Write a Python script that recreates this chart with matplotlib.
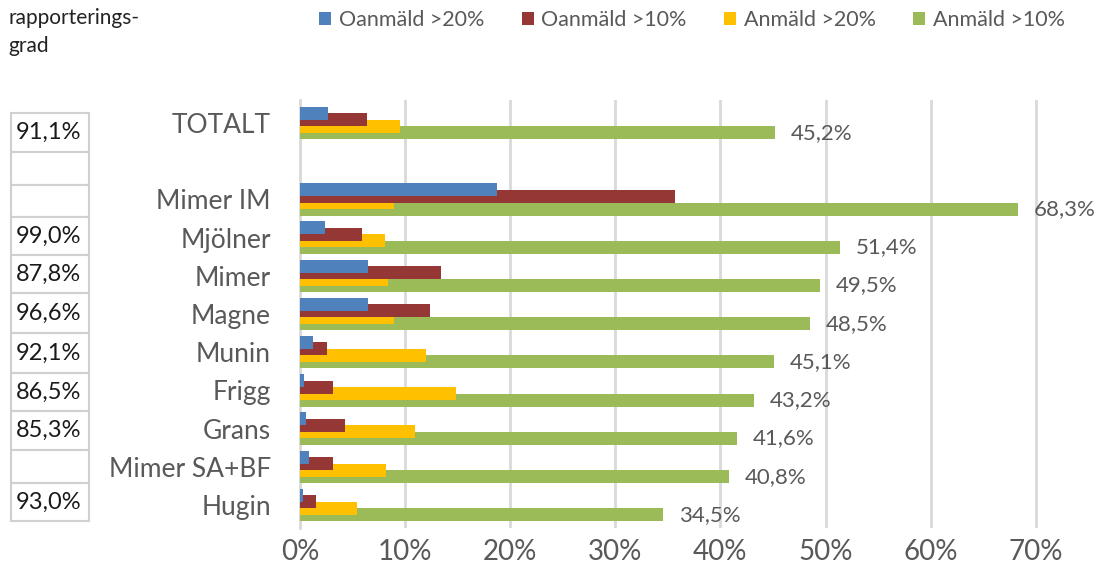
import numpy as np
import matplotlib
matplotlib.use("Agg")
import matplotlib.pyplot as plt
from matplotlib.patches import Rectangle
from matplotlib.ticker import FuncFormatter

plt.rcParams['font.family'] = ['Lato', 'DejaVu Sans']

# ---------------- data ----------------
categories = ["TOTALT", "Mimer IM", "Mjölner", "Mimer", "Magne", "Munin",
              "Frigg", "Grans", "Mimer SA+BF", "Hugin"]
series_names = ["Oanmäld >20%", "Oanmäld >10%", "Anmäld >20%", "Anmäld >10%"]
oanmald_20 = [0.027, 0.187, 0.024, 0.065, 0.065, 0.012, 0.0035, 0.006, 0.009, 0.003]
oanmald_10 = [0.064, 0.357, 0.059, 0.134, 0.124, 0.026, 0.031, 0.043, 0.031, 0.015]
anmald_20 = [0.095, 0.089, 0.081, 0.084, 0.089, 0.120, 0.148, 0.109, 0.082, 0.054]
anmald_10 = [0.452, 0.683, 0.514, 0.495, 0.485, 0.451, 0.432, 0.416, 0.408, 0.345]
green_labels = ["45,2%", "68,3%", "51,4%", "49,5%", "48,5%", "45,1%",
                "43,2%", "41,6%", "40,8%", "34,5%"]
rapp_title = "rapporterings-\ngrad"
rapp_grad = ["91,1%", "", "", "99,0%", "87,8%", "96,6%", "92,1%",
             "86,5%", "85,3%", "", "93,0%"]
x_ticks = [0.0, 0.1, 0.2, 0.3, 0.4, 0.5, 0.6, 0.7]

colors = ["#4F81BD", "#953735", "#FFC000", "#9BBB59"]
text_gray = "#595959"

W, H = 1096, 575
fig = plt.figure(figsize=(W / 100, H / 100), dpi=100)

def fx(px):
    return px / W

def fy(py):
    return 1 - py / H

ax_left, ax_right, ax_top, ax_bottom = 300, 1068, 100, 528
ax = fig.add_axes([fx(ax_left), fy(ax_bottom), fx(ax_right) - fx(ax_left),
                   fy(ax_top) - fy(ax_bottom)])

pos = np.array([0] + list(range(2, 11)), dtype=float)
offsets = [-0.255, -0.085, 0.085, 0.255]
bh = 0.34
all_series = [oanmald_20, oanmald_10, anmald_20, anmald_10]
handles = []
for i, (vals, name, col) in enumerate(zip(all_series, series_names, colors)):
    b = ax.barh(pos + offsets[i], vals, height=bh, color=col, label=name,
                zorder=10 - i, linewidth=0)
    handles.append(b)

for p, v, lab in zip(pos, anmald_10, green_labels):
    ax.annotate(lab, xy=(v, p + offsets[3]), xytext=(16, 0),
                textcoords="offset pixels",
                ha="left", va="center", fontsize=16, color=text_gray, zorder=20)

xmax = (ax_right - ax_left) / 1051
ax.set_xlim(0, xmax)
ax.set_ylim(10.6, -0.6)
ax.set_xticks(x_ticks)
ax.xaxis.set_major_formatter(FuncFormatter(lambda v, _: f"{v*100:.0f}%"))
ax.set_yticks(pos)
ax.set_yticklabels(categories)
ax.tick_params(axis="y", length=0, pad=21, labelsize=19, labelcolor=text_gray)
ax.tick_params(axis="x", length=0, pad=8, labelsize=20, labelcolor=text_gray)
ax.grid(axis="x", color="#D9D9D9", linewidth=2, zorder=0)
ax.set_axisbelow(True)
for s in ["top", "right", "bottom"]:
    ax.spines[s].set_visible(False)
ax.spines["left"].set_color("#D9D9D9")
ax.spines["left"].set_linewidth(2)

# legend
fig.legend(handles=handles, labels=series_names, loc="center",
           bbox_to_anchor=(fx(692), fy(20)), ncol=4, frameon=False,
           fontsize=15.5, labelcolor=text_gray, handlelength=0.55,
           handleheight=0.55, handletextpad=0.35, columnspacing=1.75)

# rapporteringsgrad title and boxes
fig.text(fx(8), fy(32), rapp_title, ha="left", va="center", fontsize=15,
         color="#222222", linespacing=1.55)
bounds = [113, 152, 185, 217, 255, 293, 333, 373, 411, 450, 483, 521]
for k, val in enumerate(rapp_grad):
    y0, y1 = bounds[k], bounds[k + 1]
    fig.add_artist(Rectangle((fx(11), fy(y1)), fx(89) - fx(11), fy(y0) - fy(y1),
                             transform=fig.transFigure, facecolor="white",
                             edgecolor="#D0D0D0", linewidth=1.5))
    if val:
        fig.text(fx(16), fy((y0 + y1) / 2), val, ha="left", va="center",
                 fontsize=17, color="#1a1a1a")

fig.savefig("out.png", dpi=100)
